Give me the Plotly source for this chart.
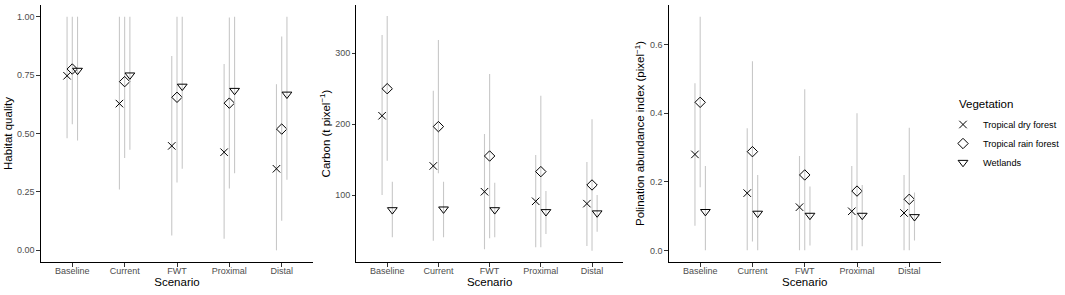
import plotly.graph_objects as go

scenarios = ["Baseline", "Current", "FWT", "Proximal", "Distal"]
vegetation = ["Tropical dry forest", "Tropical rain forest", "Wetlands"]

# Habitat quality (mean, lower, upper)
hq_dry_mean = [0.747, 0.628, 0.447, 0.420, 0.349]
hq_dry_lo = [0.48, 0.26, 0.063, 0.049, 0.0]
hq_dry_hi = [1.0, 1.0, 0.832, 0.798, 0.711]
hq_rain_mean = [0.776, 0.722, 0.655, 0.630, 0.519]
hq_rain_lo = [0.54, 0.395, 0.29, 0.265, 0.127]
hq_rain_hi = [1.0, 1.0, 1.0, 0.997, 0.915]
hq_wet_mean = [0.770, 0.750, 0.702, 0.684, 0.668]
hq_wet_lo = [0.47, 0.43, 0.349, 0.33, 0.302]
hq_wet_hi = [1.0, 1.0, 1.0, 1.0, 1.0]

# Carbon (t pixel^-1)
c_dry_mean = [212.0, 141.3, 105.0, 91.5, 88.2]
c_dry_lo = [100.4, 36.1, 24.0, 26.8, 28.6]
c_dry_hi = [325.8, 247.3, 186.3, 156.8, 146.9]
c_rain_mean = [250.1, 196.7, 155.3, 133.3, 114.5]
c_rain_lo = [148.7, 131.0, 39.4, 26.8, 22.0]
c_rain_hi = [352.5, 318.7, 270.8, 240.3, 207.0]
c_wet_mean = [79.5, 80.5, 79.5, 76.8, 75.0]
c_wet_lo = [40.8, 40.8, 40.8, 45.5, 48.7]
c_wet_hi = [119.2, 119.0, 117.8, 106.0, 100.4]

# Polination abundance index (pixel^-1)
p_dry_mean = [0.280, 0.167, 0.126, 0.114, 0.109]
p_dry_lo = [0.072, 0.0, 0.0, 0.0, 0.0]
p_dry_hi = [0.488, 0.356, 0.275, 0.246, 0.220]
p_rain_mean = [0.432, 0.288, 0.220, 0.173, 0.149]
p_rain_lo = [0.184, 0.026, 0.0, 0.0, 0.0]
p_rain_hi = [0.682, 0.552, 0.470, 0.400, 0.358]
p_wet_mean = [0.113, 0.108, 0.102, 0.102, 0.098]
p_wet_lo = [0.0, 0.0, 0.014, 0.012, 0.029]
p_wet_hi = [0.246, 0.220, 0.186, 0.191, 0.169]

panels = [
    dict(title="Habitat quality", rng=[-0.05, 1.05],
         ticks=[0.0, 0.25, 0.5, 0.75, 1.0], ticktext=["0.00", "0.25", "0.50", "0.75", "1.00"],
         series=[(hq_dry_mean, hq_dry_lo, hq_dry_hi),
                 (hq_rain_mean, hq_rain_lo, hq_rain_hi),
                 (hq_wet_mean, hq_wet_lo, hq_wet_hi)],
         xdom=[41, 314]),
    dict(title="Carbon (t pixel<sup>−1</sup>)", rng=[6, 368],
         ticks=[100, 200, 300], ticktext=["100", "200", "300"],
         series=[(c_dry_mean, c_dry_lo, c_dry_hi),
                 (c_rain_mean, c_rain_lo, c_rain_hi),
                 (c_wet_mean, c_wet_lo, c_wet_hi)],
         xdom=[357.5, 624.5]),
    dict(title="Polination abundance index (pixel<sup>−1</sup>)", rng=[-0.034, 0.716],
         ticks=[0.0, 0.2, 0.4, 0.6], ticktext=["0.0", "0.2", "0.4", "0.6"],
         series=[(p_dry_mean, p_dry_lo, p_dry_hi),
                 (p_rain_mean, p_rain_lo, p_rain_hi),
                 (p_wet_mean, p_wet_lo, p_wet_hi)],
         xdom=[670.7, 943.3]),
]

W, H = 1065, 295
symbols = ["x-thin-open", "diamond-open", "triangle-down-open"]
sizes = [7.5, 8, 8.5]
dodge = 0.1
font = "Liberation Sans, Arial, Helvetica, sans-serif"

fig = go.Figure()
layout = dict(
    width=W, height=H,
    margin=dict(l=0, r=0, t=0, b=0),
    paper_bgcolor="white", plot_bgcolor="white",
    font=dict(family=font, color="black"),
    showlegend=True,
    legend=dict(
        x=946 / W, y=1 - 110 / H, xanchor="left", yanchor="top",
        font=dict(size=9.2, color="black"),
        bgcolor="rgba(0,0,0,0)", tracegroupgap=0, itemwidth=30,
    ),
    annotations=[dict(
        text="Vegetation", x=960 / W, y=1 - 104 / H, xref="paper", yref="paper",
        xanchor="left", yanchor="middle", showarrow=False,
        font=dict(size=11.5, color="black"),
    )],
)

positions = list(range(len(scenarios)))
for p_i, panel in enumerate(panels):
    ax = "" if p_i == 0 else str(p_i + 1)
    for k, (mean, lo, hi) in enumerate(panel["series"]):
        xs = [pos + (k - 1) * dodge for pos in positions]
        fig.add_trace(go.Scatter(
            x=xs, y=mean, mode="markers",
            name=vegetation[k], legendgroup=vegetation[k],
            showlegend=(p_i == 0),
            xaxis="x" + ax, yaxis="y" + ax,
            marker=dict(symbol=symbols[k], size=sizes[k], color="black",
                        line=dict(color="black", width=1)),
            error_y=dict(type="data", symmetric=False,
                         array=[h - m for h, m in zip(hi, mean)],
                         arrayminus=[m - l for m, l in zip(mean, lo)],
                         color="#c8c8c8", thickness=1.1, width=0),
        ))
    x0, x1 = panel["xdom"]
    layout["xaxis" + ax] = dict(
        domain=[x0 / W, x1 / W], anchor="y" + ax,
        range=[-0.6, len(scenarios) - 0.4],
        tickvals=positions, ticktext=scenarios,
        showline=True, linecolor="black", linewidth=1,
        ticks="outside", ticklen=3.5, tickcolor="#333333", tickwidth=1,
        tickfont=dict(size=9, color="#4d4d4d"), ticklabelstandoff=-3,
        showgrid=False, zeroline=False,
        title=dict(text="Scenario", font=dict(size=11.5, color="black"), standoff=0),
    )
    layout["yaxis" + ax] = dict(
        domain=[33 / H, 290 / H], anchor="x" + ax,
        range=panel["rng"],
        tickvals=panel["ticks"], ticktext=panel["ticktext"],
        showline=True, linecolor="black", linewidth=1,
        ticks="outside", ticklen=3.5, tickcolor="#333333", tickwidth=1,
        tickfont=dict(size=9, color="#4d4d4d"),
        showgrid=False, zeroline=False,
        title=dict(text=panel["title"], font=dict(size=11.5, color="black"), standoff=2),
    )

fig.update_layout(**layout)
fig.write_html("out.html", config={"displayModeBar": False},
               post_script="document.body.style.margin='0';document.body.style.overflow='hidden';")
